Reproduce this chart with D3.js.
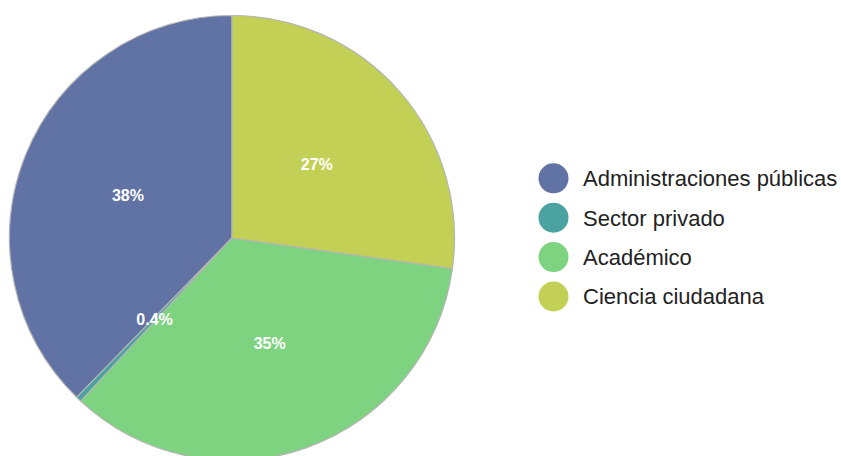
<!DOCTYPE html>
<html>
<head>
<meta charset="utf-8">
<script src="https://cdn.jsdelivr.net/npm/d3@7"></script>
<style>
  html, body { margin: 0; padding: 0; background: #ffffff; }
  svg { display: block; }
</style>
</head>
<body>
<svg id="chart" width="841" height="456"></svg>
<script>
const categories = ["Administraciones públicas", "Sector privado", "Académico", "Ciencia ciudadana"];
const values = [37.7, 0.4, 34.7, 27.2];
const colors = ["#6173a4", "#4aa3a1", "#7dd37f", "#c2d055"];

const svg = d3.select("#chart");
const cx = 232, cy = 238, R = 222.5;

const data = categories.map((c, i) => ({ name: c, value: values[i], color: colors[i] }));
const pie = d3.pie().value(d => d.value).sort(null).startAngle(0).endAngle(-2 * Math.PI);
const arcs = pie(data);
const arc = d3.arc().innerRadius(0).outerRadius(R);
const labelArc = d3.arc().innerRadius(R * 0.505).outerRadius(R * 0.505);
const total = d3.sum(values);

const g = svg.append("g").attr("transform", `translate(${cx},${cy})`);
g.selectAll("path.slice").data(arcs).join("path")
  .attr("class", "slice")
  .attr("d", arc)
  .attr("fill", d => d.data.color)
  .attr("stroke", "#b4b4b4")
  .attr("stroke-width", 1.2)
  .attr("stroke-linejoin", "round");

const fmt = v => {
  const p = v / total * 100;
  return (p < 1 ? p.toFixed(1) : Math.round(p).toString()) + "%";
};

g.selectAll("text.lbl").data(arcs).join("text")
  .attr("class", "lbl")
  .attr("transform", d => `translate(${labelArc.centroid(d)})`)
  .attr("text-anchor", "middle")
  .attr("dy", "0.35em")
  .attr("fill", "#ffffff")
  .attr("font-family", "'Liberation Sans', Arial, sans-serif")
  .attr("font-weight", "bold")
  .attr("font-size", 16)
  .text(d => fmt(d.data.value));

const legendY = d3.scalePoint().domain(categories).range([178.3, 296.5]);
const lg = svg.append("g");
const items = lg.selectAll("g.item").data(data).join("g")
  .attr("class", "item")
  .attr("transform", d => `translate(553.5,${legendY(d.name)})`);
items.append("circle").attr("r", 15).attr("fill", d => d.color);
items.append("text")
  .attr("x", 29.5)
  .attr("dy", "0.36em")
  .attr("fill", "#222222")
  .attr("font-family", "'Liberation Sans', Arial, sans-serif")
  .attr("font-size", 22)
  .text(d => d.name);
</script>
</body>
</html>
